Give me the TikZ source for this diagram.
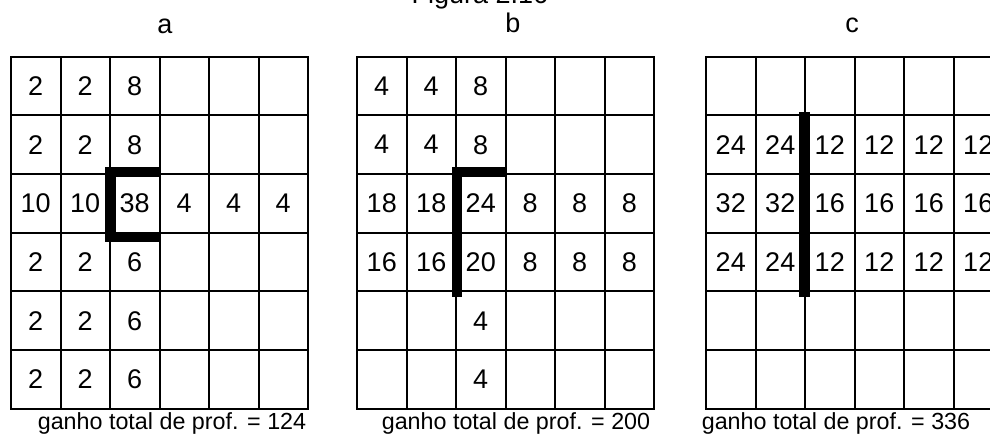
\documentclass[tikz,border=0pt]{standalone}
\usepackage{fontspec}
\setmainfont{Liberation Sans}
\newcommand\gridrow[4]{%
  \foreach \v [count=\c] in {#4} {
    \node[cell] (#1-#3-\c) at ({#2+(\c-0.5)*49.5},{56.7+(#3-0.5)*58.67}) {\v};
  }}
\begin{document}
\begin{tikzpicture}[x=1pt,y=-1pt,
  cell/.style={draw,line width=2pt,minimum width=49.5pt,minimum height=58.67pt,inner sep=0pt,font=\fontsize{27}{30}\selectfont},
  lab/.style={anchor=base,inner sep=0pt,font=\fontsize{27}{30}\selectfont},
  captxt/.style={anchor=base,inner sep=0pt,font=\fontsize{23.3}{26}\selectfont},
  bar/.style={fill=black}]
\useasboundingbox (0,0) rectangle (990,436);
\clip (0,0) rectangle (990,436);
% title and labels
\node[lab] (title) at (480,4) {Figura 2.16};
\node[lab] (la) at (165,34) {a};
\node[lab] (lb) at (513,33) {b};
\node[lab] (lc) at (852,33) {c};
% grid a
\gridrow{a}{11}{1}{2,2,8,{},{},{}}
\gridrow{a}{11}{2}{2,2,8,{},{},{}}
\gridrow{a}{11}{3}{10,10,38,4,4,4}
\gridrow{a}{11}{4}{2,2,6,{},{},{}}
\gridrow{a}{11}{5}{2,2,6,{},{},{}}
\gridrow{a}{11}{6}{2,2,6,{},{},{}}
% grid b
\gridrow{b}{357}{1}{4,4,8,{},{},{}}
\gridrow{b}{357}{2}{4,4,8,{},{},{}}
\gridrow{b}{357}{3}{18,18,24,8,8,8}
\gridrow{b}{357}{4}{16,16,20,8,8,8}
\gridrow{b}{357}{5}{{},{},4,{},{},{}}
\gridrow{b}{357}{6}{{},{},4,{},{},{}}
% grid c
\gridrow{c}{706}{1}{{},{},{},{},{},{}}
\gridrow{c}{706}{2}{24,24,12,12,12,12}
\gridrow{c}{706}{3}{32,32,16,16,16,16}
\gridrow{c}{706}{4}{24,24,12,12,12,12}
\gridrow{c}{706}{5}{{},{},{},{},{},{}}
\gridrow{c}{706}{6}{{},{},{},{},{},{}}
% thick bars
\fill[bar] (105,167) rectangle (116,242);
\fill[bar] (105,167) rectangle (161,177);
\fill[bar] (105,232) rectangle (161,242);
\fill[bar] (452,167) rectangle (462,297);
\fill[bar] (452,167) rectangle (507,177);
\fill[bar] (799,112) rectangle (810,297);
% captions
\node[captxt] (capa) at (172,429) {ganho total de prof. = 124};
\node[captxt] (capb) at (516,429) {ganho total de prof. = 200};
\node[captxt] (capc) at (836,429) {ganho total de prof. = 336};
\end{tikzpicture}
\end{document}
